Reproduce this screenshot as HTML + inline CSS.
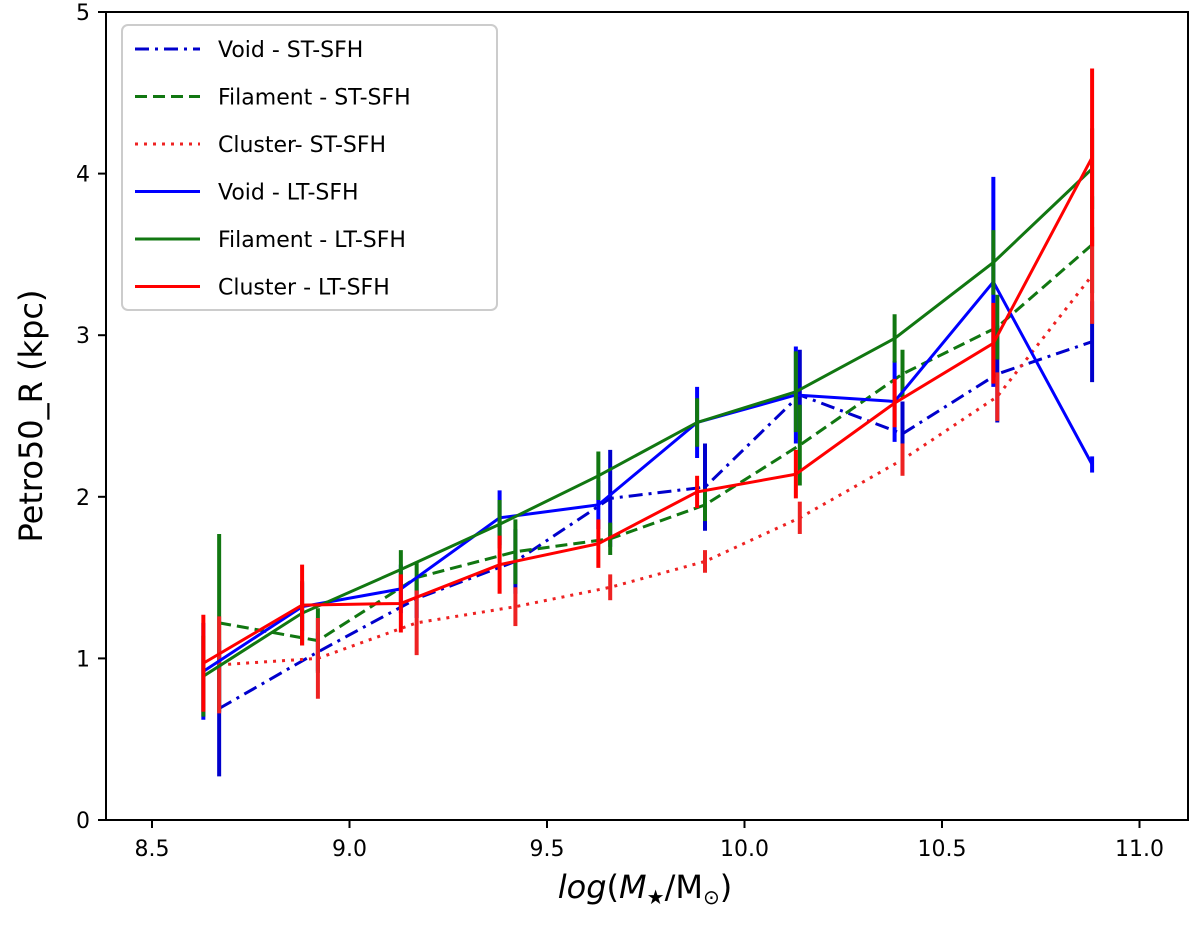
<!DOCTYPE html>
<html><head><meta charset="utf-8"><style>
body{margin:0;background:#fff;}
svg{display:block;font-family:"DejaVu Sans","Liberation Sans",sans-serif;}
</style></head><body>
<svg id="chart" width="1200" height="935"></svg>
<script>
const xLT=[8.63,8.88,9.13,9.38,9.63,9.88,10.13,10.38,10.63,10.88];
const xST=[8.67,8.92,9.17,9.42,9.66,9.9,10.14,10.4,10.64,10.88];
const voidLT=[0.92,1.32,1.43,1.87,1.95,2.46,2.63,2.59,3.33,2.2];
const filLT=[0.89,1.28,1.55,1.83,2.13,2.46,2.65,2.98,3.45,4.03];
const cluLT=[0.97,1.33,1.34,1.58,1.71,2.03,2.14,2.58,2.95,4.1];
const voidST=[0.69,1.04,1.37,1.6,1.99,2.06,2.63,2.39,2.76,2.96];
const filST=[1.22,1.11,1.5,1.66,1.74,1.95,2.32,2.76,3.05,3.56];
const cluST=[0.96,1.0,1.22,1.32,1.44,1.6,1.87,2.23,2.62,3.37];
const voidLTerr=[0.3,0.15,0.15,0.17,0.15,0.22,0.3,0.25,0.65,0.05];
const voidSTerr=[0.42,0.12,0.12,0.2,0.3,0.27,0.28,0.2,0.3,0.25];
const filLTerr=[0.25,0.2,0.12,0.15,0.15,0.15,0.25,0.15,0.2,0.25];
const filSTerr=[0.55,0.2,0.1,0.2,0.1,0.1,0.25,0.15,0.2,0.3];
const cluLTerr=[0.3,0.25,0.18,0.18,0.15,0.1,0.15,0.15,0.25,0.55];
const cluSTerr=[0.3,0.25,0.2,0.12,0.08,0.07,0.1,0.1,0.15,0.3];
const xTicks=[8.5,9.0,9.5,10.0,10.5,11.0];
const yTicks=[0,1,2,3,4,5];

const NS="http://www.w3.org/2000/svg";
const svg=document.getElementById('chart');
const L=106,R=1188,T=12,B=820;
const X=v=>152+(v-8.5)*395;
const Y=v=>B-v*161.6;
function mk(t,a,p){const e=document.createElementNS(NS,t);for(const k in a)e.setAttribute(k,a[k]);(p||svg).appendChild(e);return e;}

const series=[
 {name:'void-st-sfh',x:xST,y:voidST,e:voidSTerr,c:'#0000cc',d:'14,6,3,6',label:'Void - ST-SFH'},
 {name:'filament-st-sfh',x:xST,y:filST,e:filSTerr,c:'#117711',d:'12,6',label:'Filament - ST-SFH'},
 {name:'cluster-st-sfh',x:xST,y:cluST,e:cluSTerr,c:'#ee2222',d:'3,6',label:'Cluster- ST-SFH'},
 {name:'void-lt-sfh',x:xLT,y:voidLT,e:voidLTerr,c:'#0000ff',d:'',label:'Void - LT-SFH'},
 {name:'filament-lt-sfh',x:xLT,y:filLT,e:filLTerr,c:'#117711',d:'',label:'Filament - LT-SFH'},
 {name:'cluster-lt-sfh',x:xLT,y:cluLT,e:cluLTerr,c:'#ff0000',d:'',label:'Cluster - LT-SFH'}
];
series.forEach(s=>{
  const g=mk('g',{});
  
  
  s.x.forEach((xv,i)=>{
    const eb=mk('line',{x1:X(xv),x2:X(xv),y1:Y(s.y[i]-s.e[i]),y2:Y(s.y[i]+s.e[i]),stroke:s.c,'stroke-width':4},g);
    
    
  });
  const pl=mk('polyline',{points:s.x.map((xv,i)=>X(xv)+','+Y(s.y[i])).join(' '),fill:'none',stroke:s.c,'stroke-width':3,'stroke-dasharray':s.d},g);
  
  
});

const frame=mk('rect',{x:L,y:T,width:R-L,height:B-T,fill:'none',stroke:'#000','stroke-width':2});


xTicks.forEach(v=>{
  const t=mk('line',{x1:X(v),x2:X(v),y1:B,y2:B+8,stroke:'#000','stroke-width':2});
  
  
  const l=mk('text',{x:X(v),y:B+36,'font-size':22,'text-anchor':'middle'});
  l.textContent=v.toFixed(1);
  
  
});
yTicks.forEach(v=>{
  const t=mk('line',{x1:L-8,x2:L,y1:Y(v),y2:Y(v),stroke:'#000','stroke-width':2});
  
  
  const l=mk('text',{x:L-16,y:Y(v)+8,'font-size':22,'text-anchor':'end'});
  l.textContent=v;
  
  
});
const yl=mk('text',{x:0,y:0,'font-size':32,'text-anchor':'middle',transform:'translate(42,416) rotate(-90)'});
yl.textContent='Petro50_R (kpc)';


const xl=mk('text',{x:645,y:898,'font-size':32,'text-anchor':'middle'});
xl.innerHTML='<tspan font-style="italic">log</tspan>(<tspan font-style="italic">M</tspan><tspan font-size="20" dy="6">★</tspan><tspan dy="-6">/M</tspan><tspan font-size="20" dy="6">⊙</tspan><tspan dy="-6">)</tspan>';



const lg=mk('g',{});


mk('rect',{x:122,y:25,width:375,height:285,rx:6,fill:'#fff',stroke:'#ccc','stroke-width':2},lg);
series.forEach((s,i)=>{
  const yy=49+i*47.5;
  const e=mk('g',{},lg);
  
  
  mk('line',{x1:135,x2:200,y1:yy,y2:yy,stroke:s.c,'stroke-width':3,'stroke-dasharray':s.d},e);
  const t=mk('text',{x:218,y:yy+8,'font-size':22},e);
  t.textContent=s.label;
});
</script>
</body></html>
